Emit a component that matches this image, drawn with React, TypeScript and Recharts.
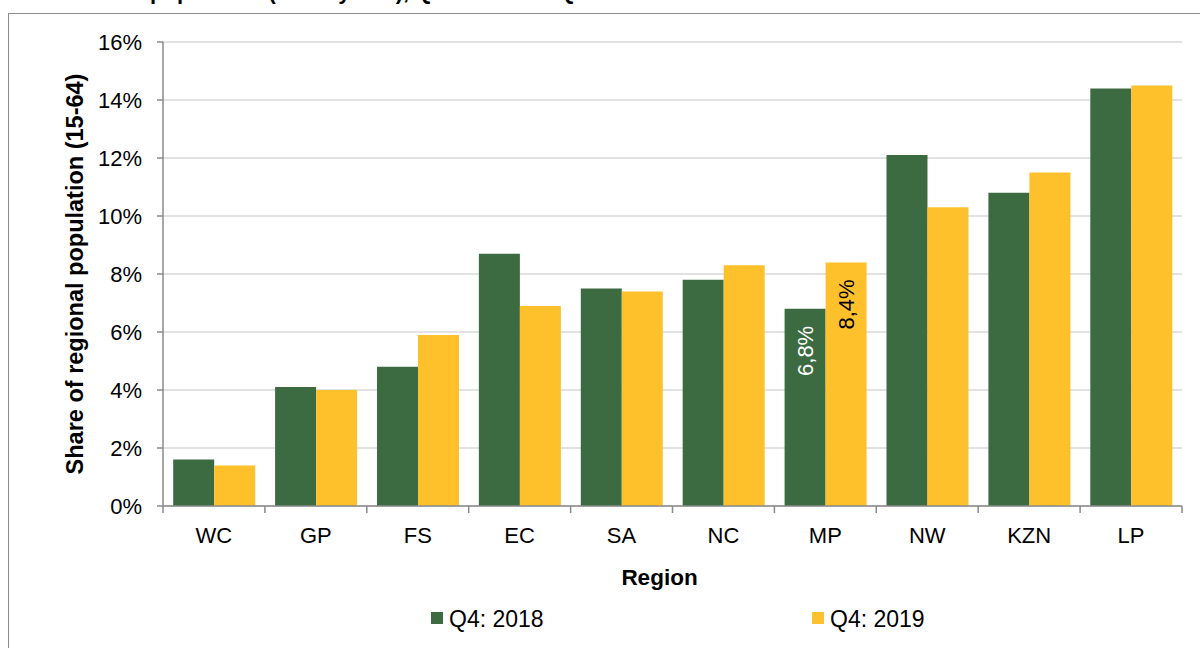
import React from "react";
import {
  BarChart,
  Bar,
  XAxis,
  YAxis,
  CartesianGrid,
  Legend,
  LabelList,
  Label,
} from "recharts";

const categories = ["WC", "GP", "FS", "EC", "SA", "NC", "MP", "NW", "KZN", "LP"];
const q4_2018 = [1.6, 4.1, 4.8, 8.7, 7.5, 7.8, 6.8, 12.1, 10.8, 14.4];
const q4_2019 = [1.4, 4.0, 5.9, 6.9, 7.4, 8.3, 8.4, 10.3, 11.5, 14.5];
const yTicks = [0, 2, 4, 6, 8, 10, 12, 14, 16];
const labelledRegion = "MP";
const seriesNames = ["Q4: 2018", "Q4: 2019"];

const data = categories.map((c, i) => ({
  region: c,
  a: q4_2018[i],
  b: q4_2019[i],
}));

const FONT = '"Liberation Sans", Arial, Helvetica, sans-serif';
const GREEN = "#3D6B41";
const YELLOW = "#FEC12B";
const AXIS = "#8A8A8A";

const XTick = (props: any) => {
  const { x, y, payload, index, width, visibleTicksCount } = props;
  const bw =
    payload && payload.offset ? payload.offset * 2 : width / visibleTicksCount;
  const axisY = y - 8;
  return (
    <g>
      <line x1={x - bw / 2} y1={axisY} x2={x - bw / 2} y2={axisY + 7} stroke={AXIS} strokeWidth={1.5} />
      {index === visibleTicksCount - 1 && (
        <line x1={x + bw / 2} y1={axisY} x2={x + bw / 2} y2={axisY + 7} stroke={AXIS} strokeWidth={1.5} />
      )}
      <text x={x} y={y + 13} dy="0.71em" textAnchor="middle" fontSize={22} fill="#000" fontFamily={FONT}>
        {payload.value}
      </text>
    </g>
  );
};

const makeBarLabel = (color: string) => (props: any) => {
  const { x, y, width, value, index } = props;
  if (categories[index] !== labelledRegion) return null;
  const cx = x + width / 2;
  const ty = y + 17;
  return (
    <text
      x={cx}
      y={ty}
      transform={`rotate(-90 ${cx} ${ty})`}
      textAnchor="end"
      dominantBaseline="central"
      fontSize={22}
      fill={color}
      fontFamily={FONT}
    >
      {String(value).replace(".", ",") + "%"}
    </text>
  );
};

const LegendContent = () => (
  <div style={{ position: "relative", width: 1200, height: 42, fontFamily: FONT, fontSize: 23, color: "#000" }}>
    {[GREEN, YELLOW].map((col, i) => (
      <div
        key={i}
        style={{
          position: "absolute",
          left: i === 0 ? 431 : 812,
          top: 2,
          height: 22,
          lineHeight: "22px",
          display: "flex",
          alignItems: "center",
          whiteSpace: "nowrap",
        }}
      >
        <span style={{ display: "inline-block", width: 12, height: 12, background: col, marginRight: 6, marginTop: -2 }} />
        <span>{seriesNames[i]}</span>
      </div>
    ))}
  </div>
);

export default function App() {
  return (
    <div style={{ position: "absolute", left: 0, top: 0, width: 1200, height: 648, overflow: "hidden", background: "#fff" }}>
      <div
        style={{
          position: "absolute",
          left: 150,
          top: -19,
          fontFamily: FONT,
          fontWeight: "bold",
          fontSize: 22,
          lineHeight: "22px",
          whiteSpace: "nowrap",
          color: "#000",
        }}
      >
        population (15-64 years), Q4: 2018 and Q4: 2019
      </div>
      <div
        style={{
          position: "absolute",
          left: 8,
          top: 13,
          width: 1300,
          height: 800,
          border: "1.5px solid #8C8C8C",
          boxSizing: "border-box",
        }}
      />
      <div style={{ position: "absolute", left: 0, top: 0 }}>
        <BarChart
          width={1200}
          height={648}
          data={data}
          margin={{ top: 42, right: 18, left: 0, bottom: 0 }}
          barCategoryGap="10%"
          barGap={0}
        >
          <CartesianGrid vertical={false} stroke="#D9D9D9" strokeWidth={1.5} />
          <XAxis
            dataKey="region"
            height={100}
            axisLine={{ stroke: AXIS, strokeWidth: 1.5 }}
            tickLine={false}
            tickSize={6}
            tickMargin={2}
            tick={<XTick />}
            interval={0}
          >
            <Label
              content={(p: any) => {
                const vb = p.viewBox;
                return (
                  <text
                    x={vb.x + vb.width / 2 - 13}
                    y={vb.y + 79}
                    textAnchor="middle"
                    fontSize={22.5}
                    fontWeight="bold"
                    fontFamily={FONT}
                    fill="#000"
                  >
                    Region
                  </text>
                );
              }}
            />
          </XAxis>
          <YAxis
            width={163}
            domain={[0, 16]}
            ticks={yTicks}
            interval={0}
            tickFormatter={(v: number) => `${v}%`}
            axisLine={{ stroke: AXIS, strokeWidth: 1.5 }}
            tickLine={{ stroke: AXIS, strokeWidth: 1.5 }}
            tickSize={6}
            tickMargin={15}
            tick={{ fontSize: 22, fill: "#000", fontFamily: FONT }}
          >
            <Label
              content={(p: any) => {
                const vb = p.viewBox;
                const cy = vb.y + vb.height / 2;
                return (
                  <text
                    x={83}
                    y={cy}
                    transform={`rotate(-90 83 ${cy})`}
                    textAnchor="middle"
                    fontSize={23.5}
                    fontWeight="bold"
                    fontFamily={FONT}
                    fill="#000"
                  >
                    Share of regional population (15-64)
                  </text>
                );
              }}
            />
          </YAxis>
          <Legend
            verticalAlign="bottom"
            content={<LegendContent />}
            wrapperStyle={{ left: 0, width: 1200, height: 42 }}
          />
          <Bar dataKey="a" name={seriesNames[0]} fill={GREEN} isAnimationActive={false}>
            <LabelList dataKey="a" content={makeBarLabel("#FFFFFF")} />
          </Bar>
          <Bar dataKey="b" name={seriesNames[1]} fill={YELLOW} isAnimationActive={false}>
            <LabelList dataKey="b" content={makeBarLabel("#000000")} />
          </Bar>
        </BarChart>
      </div>
    </div>
  );
}
